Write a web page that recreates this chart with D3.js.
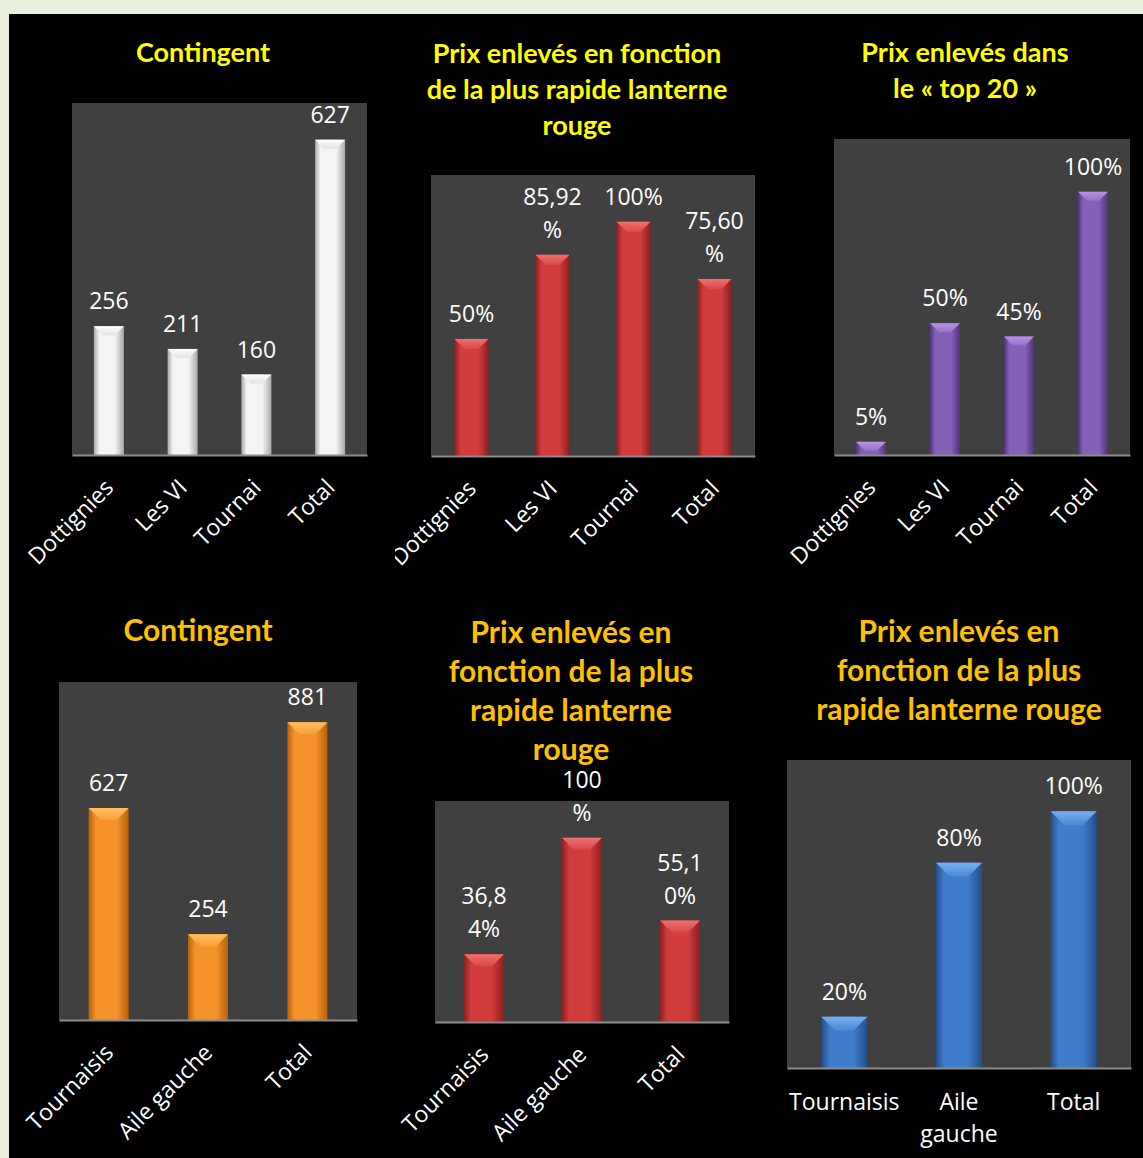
<!DOCTYPE html>
<html>
<head>
<meta charset="utf-8">
<script src="https://cdn.jsdelivr.net/npm/d3@7"></script>
<style>
  html, body { margin: 0; padding: 0; background: #e9f0dc; }
  svg { display: block; }
</style>
</head>
<body>
<div id="chart"></div>
<script>
// data
var contingentCats = ['Dottignies', 'Les VI', 'Tournai', 'Total'];
var contingentVals = [256, 211, 160, 627];
var contingentLabels = ['256', '211', '160', '627'];

var lanterneCats = ['Dottignies', 'Les VI', 'Tournai', 'Total'];
var lanterneVals = [0.50, 0.8592, 1.00, 0.7560];
var lanterneLabels = ['50%', '85,92\n%', '100%', '75,60\n%'];

var top20Cats = ['Dottignies', 'Les VI', 'Tournai', 'Total'];
var top20Vals = [0.05, 0.50, 0.45, 1.00];
var top20Labels = ['5%', '50%', '45%', '100%'];

var aileCats = ['Tournaisis', 'Aile gauche', 'Total'];
var aileVals = [627, 254, 881];
var aileLabels = ['627', '254', '881'];

var aileLanterneCats = ['Tournaisis', 'Aile gauche', 'Total'];
var aileLanterneVals = [0.3684, 1.00, 0.5510];
var aileLanterneLabels = ['36,8\n4%', '100\n%', '55,1\n0%'];

var aileRougeCats = ['Tournaisis', 'Aile\ngauche', 'Total'];
var aileRougeVals = [0.20, 0.80, 1.00];
var aileRougeLabels = ['20%', '80%', '100%'];

var width = 1143, height = 1158;

var svg = d3.select('#chart').append('svg')
	.attr('width', width).attr('height', height);

svg.append('rect').attr('x', 9).attr('y', 14)
	.attr('width', width - 9).attr('height', height - 14).attr('fill', '#000');

var defs = svg.append('defs');

// bar gradients: dark edges, light middle
function makeGradients(id, edge, mid, bevelTop, bevelBot) {
	var g = defs.append('linearGradient').attr('id', id)
		.attr('x1', 0).attr('x2', 1).attr('y1', 0).attr('y2', 0);
	g.append('stop').attr('offset', '0%').attr('stop-color', edge);
	g.append('stop').attr('offset', '18%').attr('stop-color', mid);
	g.append('stop').attr('offset', '70%').attr('stop-color', mid);
	g.append('stop').attr('offset', '100%').attr('stop-color', edge);
	var b = defs.append('linearGradient').attr('id', id + 'Bevel')
		.attr('x1', 0).attr('x2', 0).attr('y1', 0).attr('y2', 1);
	b.append('stop').attr('offset', '0%').attr('stop-color', bevelTop);
	b.append('stop').attr('offset', '100%').attr('stop-color', bevelBot);
}
makeGradients('white', '#a9a9a9', '#f4f4f4', '#ffffff', '#e2e2e2');
makeGradients('red', '#8e1f1f', '#d23c3c', '#f07070', '#d84848');
makeGradients('orange', '#b8600c', '#f5922a', '#ffc060', '#f7a03a');
makeGradients('purple', '#52337a', '#8660b8', '#b594e6', '#9670c8');
makeGradients('blue', '#234e8a', '#3f7ccc', '#78b0f0', '#4a88d6');

var yellow = '#ffff00', amber = '#ffc000';

var panels = [
	{cats: contingentCats, vals: contingentVals, labels: contingentLabels, max: 700,
	 box: [72, 103, 295, 352], bar: 30, fill: 'white', rotate: true,
	 title: ['Contingent'], tx: 203, ty: 53, tsize: 27, tgap: 36, tcolor: yellow},
	{cats: lanterneCats, vals: lanterneVals, labels: lanterneLabels, max: 1.2,
	 box: [431, 175, 324, 281], bar: 34, fill: 'red', rotate: true, clipLeft: 395,
	 title: ['Prix enlevés en fonction', 'de la plus rapide lanterne', 'rouge'], tx: 577, ty: 54, tsize: 27, tgap: 36, tcolor: yellow},
	{cats: top20Cats, vals: top20Vals, labels: top20Labels, max: 1.2,
	 box: [834, 139, 296, 316], bar: 30, fill: 'purple', rotate: true,
	 title: ['Prix enlevés dans', 'le « top 20 »'], tx: 965, ty: 53, tsize: 27, tgap: 36, tcolor: yellow},
	{cats: aileCats, vals: aileVals, labels: aileLabels, max: 1000,
	 box: [59, 682, 298, 338], bar: 40, fill: 'orange', rotate: true,
	 title: ['Contingent'], tx: 198, ty: 630, tsize: 30, tgap: 39, tcolor: amber},
	{cats: aileLanterneCats, vals: aileLanterneVals, labels: aileLanterneLabels, max: 1.2,
	 box: [435, 801, 294, 221], bar: 40, fill: 'red', rotate: true,
	 title: ['Prix enlevés en', 'fonction de la plus', 'rapide lanterne', 'rouge'], tx: 571, ty: 632, tsize: 30, tgap: 39, tcolor: amber},
	{cats: aileRougeCats, vals: aileRougeVals, labels: aileRougeLabels, max: 1.2,
	 box: [787, 760, 344, 308], bar: 46, fill: 'blue', rotate: false,
	 title: ['Prix enlevés en', 'fonction de la plus', 'rapide lanterne rouge'], tx: 959, ty: 631, tsize: 30, tgap: 39, tcolor: amber}
];

function drawPanel(p, n) {
	var bx = p.box[0], by = p.box[1], bw = p.box[2], bh = p.box[3];
	var g = svg.append('g');

	// title
	g.append('text')
		.attr('text-anchor', 'middle')
		.attr('font-family', 'Lato, "Noto Sans", sans-serif')
		.attr('font-weight', 'bold')
		.attr('font-size', p.tsize)
		.attr('fill', p.tcolor)
		.selectAll('tspan').data(p.title).enter().append('tspan')
		.attr('x', p.tx)
		.attr('y', function(d, i) { return p.ty + i * p.tgap; })
		.attr('dy', '0.35em')
		.text(function(d) { return d; });

	// plot area
	g.append('rect').attr('x', bx).attr('y', by).attr('width', bw).attr('height', bh)
		.attr('fill', '#404040');

	var x = d3.scaleBand().domain(p.cats).range([bx, bx + bw]);
	var y = d3.scaleLinear().domain([0, p.max]).range([by + bh, by]);
	var bar = p.bar;
	var cx = function(d) { return x(d) + x.bandwidth() / 2; };

	var bars = g.selectAll('g.bar').data(p.vals).enter().append('g').attr('class', 'bar');
	bars.append('rect')
		.attr('x', function(d, i) { return cx(p.cats[i]) - bar / 2; })
		.attr('y', function(d) { return y(d); })
		.attr('width', bar)
		.attr('height', function(d) { return y(0) - y(d); })
		.attr('fill', 'url(#' + p.fill + ')');
	// top bevel
	bars.append('path')
		.attr('d', function(d, i) {
			var x0 = cx(p.cats[i]) - bar / 2, x1 = x0 + bar, t = y(d);
			var b = Math.min(bar * 0.3, (y(0) - t));
			return 'M' + x0 + ',' + t + 'L' + x1 + ',' + t + 'L' + (x1 - b) + ',' + (t + b) +
				'L' + (x0 + b) + ',' + (t + b) + 'Z';
		})
		.attr('fill', 'url(#' + p.fill + 'Bevel)');

	// value labels
	bars.append('text')
		.attr('text-anchor', 'middle')
		.attr('font-family', '"Open Sans", sans-serif')
		.attr('font-size', 23)
		.attr('fill', '#fff')
		.each(function(d, i) {
			var lines = p.labels[i].split('\n');
			var base = y(d) - 17;
			d3.select(this).selectAll('tspan').data(lines).enter().append('tspan')
				.attr('x', cx(p.cats[i]))
				.attr('y', function(l, j) { return base - (lines.length - 1 - j) * 33; })
				.text(function(l) { return l; });
		});

	// x axis
	var axis = g.append('g')
		.attr('transform', 'translate(0,' + (by + bh) + ')')
		.call(d3.axisBottom(x).tickSize(0).tickFormat(''));
	axis.select('.domain').attr('stroke', '#8c8c8c').attr('stroke-width', 2);

	// the chart frame cuts off labels that run past it
	if (p.clipLeft) {
		var clipId = 'clip' + n;
		defs.append('clipPath').attr('id', clipId)
			.append('rect').attr('x', p.clipLeft).attr('y', by)
			.attr('width', width - p.clipLeft).attr('height', 400);
		axis.attr('clip-path', null);
		axis.selectAll('.tick').attr('clip-path', null);
		g.append('g').attr('clip-path', 'url(#' + clipId + ')').node().appendChild(axis.node());
	}

	var labels = axis.selectAll('.tick').append('text')
		.attr('font-family', '"Open Sans", sans-serif')
		.attr('font-size', 23)
		.attr('fill', '#fff');
	if (p.rotate) {
		labels.attr('text-anchor', 'end')
			.attr('transform', 'translate(6,34) rotate(-45)')
			.text(function(d) { return d; });
	} else {
		labels.attr('text-anchor', 'middle')
			.each(function(d) {
				var lines = d.split('\n');
				d3.select(this).selectAll('tspan').data(lines).enter().append('tspan')
					.attr('x', 0)
					.attr('y', function(l, j) { return 42 + j * 32; })
					.text(function(l) { return l; });
			});
	}
}

panels.forEach(drawPanel);
</script>
</body>
</html>
